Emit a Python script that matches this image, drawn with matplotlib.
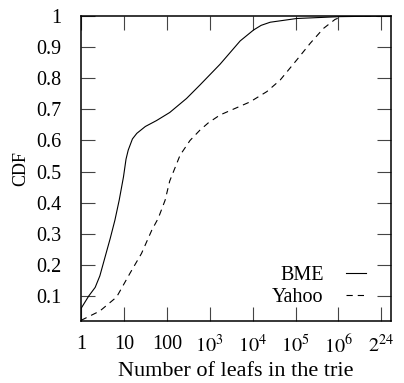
import matplotlib
matplotlib.use('Agg')
import matplotlib.pyplot as plt

# data (x = number of leafs, y = CDF)
bme_x = [1, 1.51, 2.14, 2.75, 3.98, 4.79, 6.17, 7.76, 9.77, 11.2, 12.6, 15.8,
         20, 31.6, 57.5, 117, 288, 589, 1740, 5130, 10500, 15800, 25700,
         107000, 1.1e6, 2**24]
bme_y = [0.06, 0.10, 0.128, 0.165, 0.245, 0.285, 0.344, 0.408, 0.483, 0.54,
         0.569, 0.605, 0.623, 0.645, 0.664, 0.69, 0.735, 0.778, 0.845, 0.92,
         0.955, 0.97, 0.98, 0.992, 0.998, 1.0]

yahoo_x = [1, 2.75, 6.76, 13.8, 25.7, 44.7, 63.1, 91.2, 117, 204, 347, 589,
           933, 1740, 8710, 21400, 43700, 107000, 219000, 447000, 832000,
           1.26e6, 2**24]
yahoo_y = [0.022, 0.052, 0.097, 0.173, 0.237, 0.312, 0.35, 0.408, 0.47,
           0.553, 0.60, 0.633, 0.657, 0.682, 0.724, 0.757, 0.794, 0.859,
           0.912, 0.96, 0.989, 0.999, 1.0]

xticks = [1, 10, 100, 1e3, 1e4, 1e5, 1e6, 1e7]
xtick_labels = ['1', '10', '100', r'$10^3$', r'$10^4$', r'$10^5$', r'$10^6$', r'$2^{24}$']
yticks = [0.1, 0.2, 0.3, 0.4, 0.5, 0.6, 0.7, 0.8, 0.9, 1]
ytick_labels = ['0.1', '0.2', '0.3', '0.4', '0.5', '0.6', '0.7', '0.8', '0.9', '1']

plt.rcParams['font.family'] = ['Liberation Serif', 'DejaVu Serif']
plt.rcParams['mathtext.fontset'] = 'stix'
plt.rcParams['font.size'] = 14.5
plt.rcParams['lines.scale_dashes'] = False

fig = plt.figure(figsize=(4.04, 3.83), dpi=100)
ax = fig.add_axes([81/404, 1 - 321/383, 310/404, 305/383])

ax.plot(bme_x, bme_y, color='black', lw=0.8, label='BME')
ax.plot(yahoo_x, yahoo_y, color='black', lw=0.8, dashes=(4.5, 3.6), label='Yahoo')

ax.set_xscale('log')
ax.set_xlim(1, 2**24)
ax.set_ylim(0.02, 1)
ax.set_xticks(xticks)
ax.set_xticklabels(xtick_labels)
ax.xaxis.set_minor_locator(matplotlib.ticker.NullLocator())
ax.set_yticks(yticks)
ax.set_yticklabels(ytick_labels)

ax.tick_params(direction='in', length=10, width=0.8, color='#444444',
               top=True, right=True, labelsize=14.5)
ax.tick_params(axis='x', pad=10)
ax.tick_params(axis='y', pad=14)
for s in ax.spines.values():
    s.set_linewidth(1.1)

ax.set_xlabel('Number of leafs in the trie', fontsize=16, labelpad=3)
ax.set_ylabel('CDF', fontsize=13, labelpad=5)

ax.legend(loc='lower right', markerfirst=False, frameon=False,
          handlelength=1.0, handletextpad=1.1, labelspacing=0.15,
          borderpad=0, bbox_to_anchor=(0.919, 0.045), borderaxespad=0,
          fontsize=14.5)

plt.savefig('out.png', dpi=100)
